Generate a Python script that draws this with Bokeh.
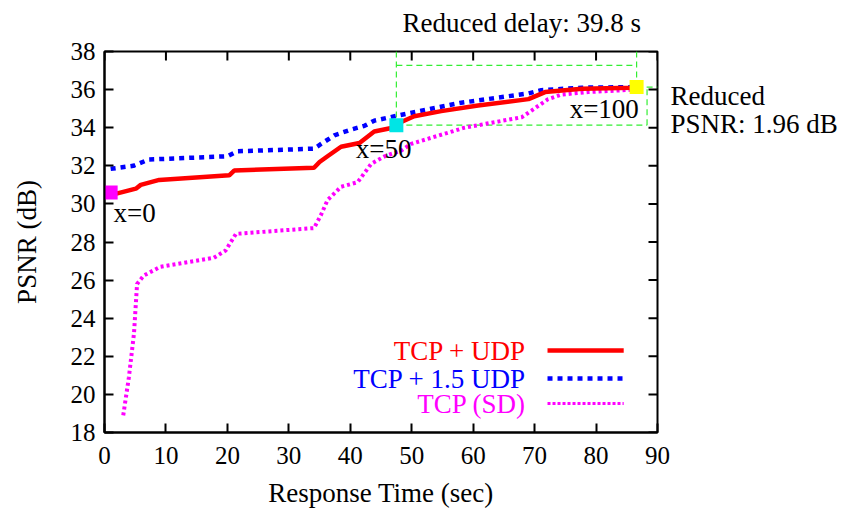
from bokeh.plotting import figure
from bokeh.models import Range1d, FixedTicker, Label, LinearAxis
from bokeh.embed import file_html
from bokeh.resources import INLINE

# Data
tcp_udp_x = [1.0, 2.1, 5.1, 5.9, 8.9, 20.3, 21.1, 34.1, 35.0, 36.3, 38.5, 41.5, 43.9, 46.9, 48.3, 50.4, 54.8, 60.8, 69.0, 71.7, 77.7, 85.8, 86.6]
tcp_udp_y = [30.6, 30.55, 30.8, 31.0, 31.26, 31.5, 31.75, 31.9, 32.2, 32.5, 33.0, 33.2, 33.8, 34.0, 34.3, 34.6, 34.87, 35.17, 35.5, 35.87, 36.04, 36.1, 36.13]

tcp15_x = [1.0, 4.7, 7.2, 20.0, 21.6, 34.1, 35.5, 37.4, 40.1, 42.3, 43.9, 47.2, 50.2, 57.8, 69.0, 71.1, 77.7, 85.8]
tcp15_y = [31.84, 32.0, 32.33, 32.5, 32.76, 32.9, 33.2, 33.6, 33.9, 34.1, 34.37, 34.6, 34.8, 35.3, 35.8, 35.97, 36.1, 36.13]

sd_x = [3.05, 3.97, 4.8, 5.3, 6.4, 9.1, 17.8, 19.7, 21.4, 34.1, 35.2, 36.3, 38.5, 41.2, 43.4, 45.6, 48.3, 49.9, 58.6, 67.9, 69.5, 72.2, 74.4, 78.7, 85.8]
sd_y = [18.9, 20.9, 23.2, 25.8, 26.24, 26.7, 27.17, 27.55, 28.43, 28.73, 29.4, 30.2, 30.9, 31.14, 32.1, 32.5, 32.8, 33.15, 34.0, 34.55, 34.9, 35.5, 35.74, 35.87, 35.99]

marker_x = [1.0, 47.5, 86.6]
marker_y = [30.6, 34.13, 36.13]
marker_labels = ["x=0", "x=50", "x=100"]
marker_colors = ["#ff00ff", "#00e5e5", "#ffff00"]

series_names = ["TCP + UDP", "TCP + 1.5 UDP", "TCP (SD)"]
x_ticks = [0, 10, 20, 30, 40, 50, 60, 70, 80, 90]
y_ticks = [18, 20, 22, 24, 26, 28, 30, 32, 34, 36, 38]

delay_text = "Reduced delay: 39.8 s"
psnr_text = ["Reduced", "PSNR: 1.96 dB"]

FONT = "Liberation Serif"
FS = "25px"
FT = "27px"
X0, X1, Y0, Y1 = 0, 90, 18, 38

p = figure(frame_width=553, frame_height=381, output_backend="svg", toolbar_location=None,
           x_range=Range1d(X0, X1), y_range=Range1d(Y0, Y1),
           min_border_left=104, min_border_right=188, min_border_top=51, min_border_bottom=85)
p.background_fill_color = "white"
p.border_fill_color = "white"
p.grid.visible = False
p.outline_line_color = "black"
p.outline_line_width = 2

for ax in [p.xaxis[0], p.yaxis[0]]:
    ax.major_tick_in = 9
    ax.major_tick_out = 0
    ax.minor_tick_in = 0
    ax.minor_tick_out = 0
    ax.axis_line_width = 2
    ax.axis_line_color = "black"
    ax.major_tick_line_width = 2
    ax.major_tick_line_color = "black"
    ax.major_label_text_font = FONT
    ax.major_label_text_font_size = FS
    ax.major_label_text_color = "black"
    ax.axis_label_text_font = FONT
    ax.axis_label_text_font_size = FT
    ax.axis_label_text_font_style = "normal"
    ax.axis_label_text_color = "black"

p.xaxis.ticker = FixedTicker(ticks=x_ticks)
p.yaxis.ticker = FixedTicker(ticks=y_ticks)
p.xaxis.axis_label = "Response Time (sec)"
p.yaxis.axis_label = "PSNR (dB)"
p.xaxis.major_label_standoff = 14
p.yaxis.major_label_standoff = 9
p.xaxis.axis_label_standoff = 11
p.yaxis.axis_label_standoff = 26

# annotation texts outside the frame, carried by label-only axes
delay_label_x = 67.9
psnr_label_y = [35.65, 34.2]
top_ax = LinearAxis(ticker=FixedTicker(ticks=[delay_label_x]),
                    major_label_overrides={delay_label_x: delay_text},
                    major_tick_in=0, major_tick_out=0, minor_tick_in=0, minor_tick_out=0,
                    axis_line_color=None, major_label_standoff=14,
                    major_label_text_font=FONT, major_label_text_font_size=FT,
                    major_label_text_color="black")
right_ax = LinearAxis(ticker=FixedTicker(ticks=psnr_label_y),
                      major_label_overrides={psnr_label_y[0]: psnr_text[0], psnr_label_y[1]: psnr_text[1]},
                      major_tick_in=0, major_tick_out=0, minor_tick_in=0, minor_tick_out=0,
                      axis_line_color=None, major_label_standoff=13,
                      major_label_text_font=FONT, major_label_text_font_size=FT,
                      major_label_text_color="black")
p.add_layout(top_ax, "above")
p.add_layout(right_ax, "right")

# mirrored inward ticks on top and right (tick length 9px converted to data units)
tick_dy = 9 * (Y1 - Y0) / 381.0
tick_dx = 9 * (X1 - X0) / 553.0
p.segment(x0=x_ticks, y0=[Y1] * len(x_ticks), x1=x_ticks, y1=[Y1 - tick_dy] * len(x_ticks),
          line_color="black", line_width=2)
p.segment(x0=[X1] * len(y_ticks), y0=y_ticks, x1=[X1 - tick_dx] * len(y_ticks), y1=y_ticks,
          line_color="black", line_width=2)

green = "#33ee33"
delay_y = 37.27
psnr_x = 88.3
p.segment(x0=[marker_x[1], marker_x[2], marker_x[1], marker_x[1], marker_x[2], psnr_x],
          y0=[Y1, Y1, delay_y, marker_y[1], marker_y[2], marker_y[1]],
          x1=[marker_x[1], marker_x[2], marker_x[2], psnr_x, X1, psnr_x],
          y1=[marker_y[1], marker_y[2], delay_y, marker_y[1], marker_y[2], marker_y[2]],
          line_color=green, line_width=1.2, line_dash="6 4")

p.line(sd_x, sd_y, line_color="#ff00ff", line_width=4, line_dash="3 3")
p.line(tcp15_x, tcp15_y, line_color="#0000ff", line_width=4.5, line_dash="5 5")
p.line(tcp_udp_x, tcp_udp_y, line_color="#ff0000", line_width=4.5)

p.scatter(marker_x, marker_y, marker="square", size=14, fill_color=marker_colors, line_color=None)

label_x = [1.46, 40.9, 75.7]
label_y = [29.5, 32.9, 35.0]
for lx, ly, t in zip(label_x, label_y, marker_labels):
    p.add_layout(Label(x=lx, y=ly, text=t, text_font=FONT, text_font_size=FT,
                       text_color="black", text_align="left", text_baseline="middle"))

# legend (gnuplot style: coloured text right-aligned, sample to the right)
leg_y = [22.3, 20.83, 19.52]
leg_colors = ["#ff0000", "#0000ff", "#ff00ff"]
leg_dash = ["solid", "5 5", "3 2"]
leg_w = [4.5, 4.5, 3]
for yy, name, c, d, w in zip(leg_y, series_names, leg_colors, leg_dash, leg_w):
    p.add_layout(Label(x=68.6, y=yy, text=name, text_font=FONT, text_font_size=FT,
                       text_color=c, text_align="right", text_baseline="middle"))
    p.line([72.1, 84.5], [yy, yy], line_color=c, line_width=w, line_dash=d)

open("out.html", "w").write(file_html(p, INLINE))
